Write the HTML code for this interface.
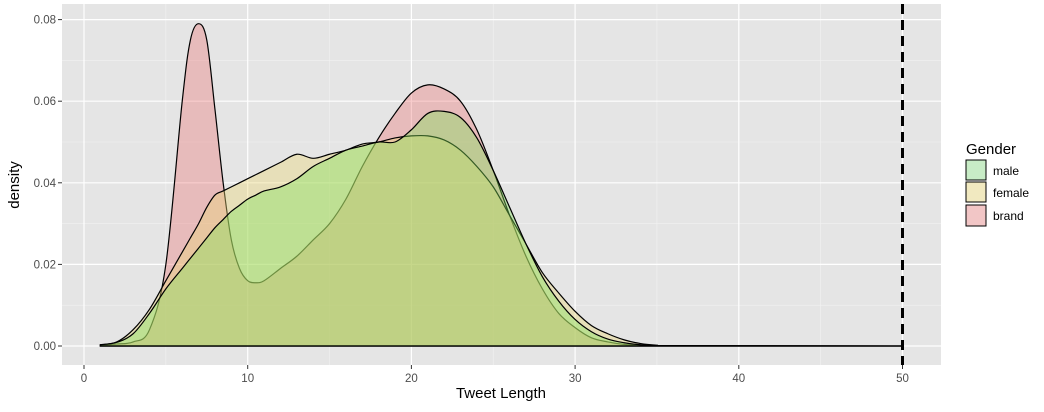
<!DOCTYPE html>
<html><head><meta charset="utf-8"><style>
body{margin:0;background:#fff;font-family:"Liberation Sans",Arial,sans-serif}
</style></head><body>
<svg id="chart" width="1044" height="407" xmlns="http://www.w3.org/2000/svg">
<rect x="62" y="4" width="879" height="361" fill="#e5e5e5"/>
<g id="grid"></g>
<g id="areas"></g>
<g id="axes"></g>
<text x="501" y="398" font-size="15" text-anchor="middle" fill="#000">Tweet Length</text>
<text transform="translate(19,185) rotate(-90)" font-size="15" text-anchor="middle" fill="#000">density</text>
<g>
<text x="966" y="154" font-size="15" fill="#000">Gender</text>
<rect x="966" y="160" width="20" height="20" fill="#c8ecc6" stroke="#000" stroke-width="1"/>
<text x="993" y="175" font-size="12">male</text>
<rect x="966" y="182" width="20" height="20" fill="#f1e9c0" stroke="#000" stroke-width="1"/>
<text x="993" y="197" font-size="12">female</text>
<rect x="966" y="205" width="20" height="21" fill="#f2c6c6" stroke="#000" stroke-width="1"/>
<text x="993" y="220" font-size="12">brand</text>
</g>
</svg>
<script>
const xGrid=[1,2,3,4,5,6,6.5,7,7.5,8,8.5,9,9.5,10,10.5,11,12,13,14,15,16,17,18,19,20,21,22,23,24,25,26,27,28,29,30,31,32,33,34,35,36,50];
const brandY=[0.0002,0.0005,0.001,0.004,0.02,0.06,0.075,0.079,0.075,0.058,0.04,0.026,0.019,0.016,0.0155,0.016,0.019,0.022,0.026,0.030,0.036,0.044,0.051,0.057,0.062,0.064,0.063,0.060,0.053,0.043,0.032,0.022,0.014,0.008,0.0045,0.002,0.001,0.0004,0.0002,0.0001,0.00005,0];
const femaleY=[0.0003,0.001,0.004,0.009,0.016,0.023,0.0265,0.030,0.034,0.037,0.038,0.039,0.040,0.041,0.042,0.043,0.045,0.047,0.046,0.047,0.048,0.0495,0.050,0.051,0.0515,0.0515,0.0505,0.048,0.044,0.039,0.032,0.025,0.018,0.013,0.0085,0.005,0.003,0.0015,0.0006,0.0002,0.0001,0];
const maleY=[0.0003,0.0009,0.003,0.008,0.014,0.019,0.0215,0.024,0.0265,0.029,0.031,0.033,0.0345,0.036,0.037,0.038,0.039,0.041,0.044,0.046,0.048,0.049,0.050,0.050,0.053,0.057,0.0575,0.056,0.051,0.043,0.034,0.025,0.017,0.011,0.0065,0.0035,0.0017,0.0008,0.0003,0.0001,0.00005,0];
const xTicks=[0,10,20,30,40,50];
const yTicks=[0,0.02,0.04,0.06,0.08];
const yTickLabels=["0.00","0.02","0.04","0.06","0.08"];
const NS="http://www.w3.org/2000/svg";
function sx(v){return 84+v*16.37;}
function sy(v){return 346-v*4080;}
function mk(tag,attrs,parent){const e=document.createElementNS(NS,tag);for(const k in attrs)e.setAttribute(k,attrs[k]);parent.appendChild(e);return e;}
const grid=document.getElementById('grid'),axes=document.getElementById('axes'),areas=document.getElementById('areas');
for(let i=0;i<xTicks.length-1;i++){const m=(xTicks[i]+xTicks[i+1])/2;const l=mk('line',{x1:sx(m),x2:sx(m),y1:4,y2:365,stroke:'#f2f2f2','stroke-width':0.6},grid);

}
for(let i=0;i<yTicks.length;i++){const m=yTicks[i]+0.01;const l=mk('line',{x1:62,x2:941,y1:sy(m),y2:sy(m),stroke:'#f2f2f2','stroke-width':0.6},grid);

}
xTicks.forEach(t=>{const l=mk('line',{x1:sx(t),x2:sx(t),y1:4,y2:365,stroke:'#fff','stroke-width':1.2},grid);


const tk=mk('line',{x1:sx(t),x2:sx(t),y1:365,y2:369,stroke:'#333','stroke-width':1},axes);


const tx=mk('text',{x:sx(t),y:382,'font-size':11.5,'text-anchor':'middle',fill:'#4d4d4d'},axes);tx.textContent=t;

});
yTicks.forEach((t,i)=>{const l=mk('line',{x1:62,x2:941,y1:sy(t),y2:sy(t),stroke:'#fff','stroke-width':1.2},grid);


const tk=mk('line',{x1:58,x2:62,y1:sy(t),y2:sy(t),stroke:'#333','stroke-width':1},axes);


const tx=mk('text',{x:56,y:sy(t)+4,'font-size':11.5,'text-anchor':'end',fill:'#4d4d4d'},axes);tx.textContent=yTickLabels[i];

});
function curve(ys){const p=xGrid.map((x,i)=>[sx(x),sy(ys[i])]);let d='M'+p[0][0]+','+p[0][1];
for(let i=0;i<p.length-1;i++){const p0=p[Math.max(0,i-1)],p1=p[i],p2=p[i+1],p3=p[Math.min(p.length-1,i+2)];
const c1=[p1[0]+(p2[0]-p0[0])/6,p1[1]+(p2[1]-p0[1])/6],c2=[p2[0]-(p3[0]-p1[0])/6,p2[1]-(p3[1]-p1[1])/6];
d+=' C'+c1[0]+','+c1[1]+' '+c2[0]+','+c2[1]+' '+p2[0]+','+p2[1];}
return d;}
function area(ys,fill,name){const d=curve(ys)+' L'+sx(xGrid[xGrid.length-1])+','+sy(0)+' L'+sx(xGrid[0])+','+sy(0)+' Z';
const a=mk('path',{d:d,fill:fill,stroke:'#000','stroke-width':1.2},areas);

}
area(brandY,'rgba(235,110,110,0.35)','brand-density-area');
area(femaleY,'rgba(235,215,120,0.4)','female-density-area');
area(maleY,'rgba(130,225,90,0.4)','male-density-area');
const v=mk('line',{x1:sx(50),x2:sx(50),y1:4,y2:365,stroke:'#000','stroke-width':3,'stroke-dasharray':'10,6'},areas);


</script>
</body></html>
